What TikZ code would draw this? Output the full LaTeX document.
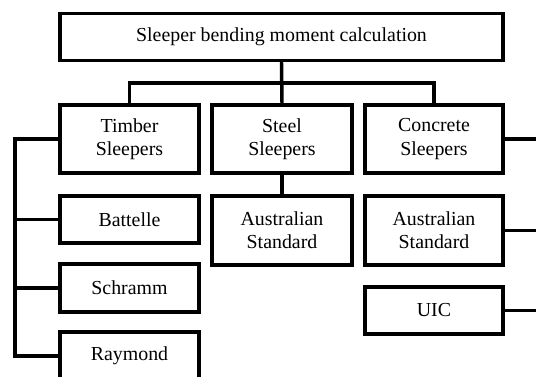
\documentclass[tikz,border=0pt]{standalone}
\usepackage{fontspec}
\setmainfont{Liberation Serif}
\begin{document}
\begin{tikzpicture}[x=0.75pt,y=-0.75pt,
  box/.style={draw, line width=2.5pt, rectangle, inner sep=0pt, align=center,
    font=\fontsize{14.9}{17.5}\selectfont},
  conn/.style={line width=2.6pt}]
\useasboundingbox (0,0) rectangle (536,376);
\clip (0,0) rectangle (536,376);
% top
\node[box, minimum width=443*0.75pt, minimum height=47*0.75pt] (top) at (281.5,37) {Sleeper bending moment calculation};
% level 2
\node[box, minimum width=139*0.75pt, minimum height=68*0.75pt] (timber) at (129.5,139) {Timber\\Sleepers};
\node[box, minimum width=140*0.75pt, minimum height=68*0.75pt] (steel) at (282,139) {Steel\\Sleepers};
\node[box, minimum width=138*0.75pt, minimum height=68*0.75pt] (concrete) at (434,139) {Concrete\\Sleepers};
% level 3
\node[box, minimum width=139*0.75pt, minimum height=47*0.75pt] (battelle) at (129.5,219.5) {Battelle};
\node[box, minimum width=139*0.75pt, minimum height=48*0.75pt] (schramm) at (129.5,288) {Schramm};
\node[box, minimum width=139*0.75pt, minimum height=48*0.75pt] (raymond) at (129.5,356) {Raymond};
\node[box, minimum width=140*0.75pt, minimum height=69*0.75pt] (steelas) at (282,230.5) {Australian\\Standard};
\node[box, minimum width=138*0.75pt, minimum height=69*0.75pt] (concas) at (434,230.5) {Australian\\Standard};
\node[box, minimum width=138*0.75pt, minimum height=47*0.75pt] (uic) at (434,310.5) {UIC};
% bus coordinates
\coordinate (lb) at (15,0);
\coordinate (rb) at (550,0);
\coordinate (bus) at (0,83);
% top connectors
\draw[conn] (top.south) -- (steel.north);
\draw[conn] (timber.north) -- (timber.north |- bus) -- (concrete.north |- bus) -- (concrete.north);
% timber bracket
\draw[conn] (timber.west) -- (lb |- timber.west) -- (lb |- raymond.west) -- (raymond.west);
\draw[conn] (battelle.west) -- (lb |- battelle.west);
\draw[conn] (schramm.west) -- (lb |- schramm.west);
% steel
\draw[conn] (steel.south) -- (steelas.north);
% concrete bracket
\draw[conn] (concrete.east) -- (rb |- concrete.east) -- (rb |- uic.east) -- (uic.east);
\draw[conn] (concas.east) -- (rb |- concas.east);
\end{tikzpicture}
\end{document}
